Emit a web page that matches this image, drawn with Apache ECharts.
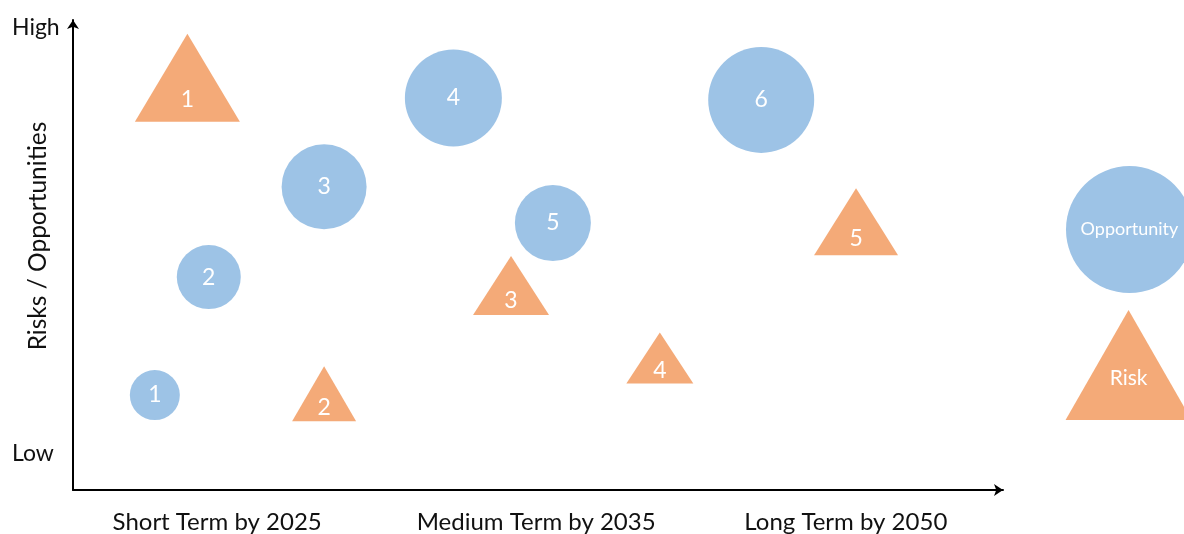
<!DOCTYPE html>
<html>
<head>
<meta charset="utf-8">
<script src="https://cdn.jsdelivr.net/npm/echarts@6/dist/echarts.min.js"></script>
<style>
  html, body { margin: 0; padding: 0; background: #fff; }
  #chart { width: 1184px; height: 534px; }
</style>
</head>
<body>
<div id="chart"></div>
<script>
// ---- data ----
const categories = ['Short Term by 2025', 'Medium Term by 2035', 'Long Term by 2050'];
const categoryPos = [15.5, 49.8, 83.1];          // position of each horizon on the 0-100 time axis
const levelLabels = ['Low', 'High'];
const levelPos = [7.7, 98.3];                     // position of Low / High on the 0-100 level axis

// Opportunities (circles): id, time position, level, magnitude (diameter)
const oppIds = ['1', '2', '3', '4', '5', '6'];
const oppTime = [8.8, 14.6, 27.0, 40.9, 51.6, 74.0];
const oppLevel = [20.2, 45.3, 64.5, 83.4, 56.8, 83.0];
const oppMagnitude = [50, 64, 85, 97, 76, 106];

// Risks (triangles): id, time position, level, magnitude (width, height)
const riskIds = ['1', '2', '3', '4', '5'];
const riskTime = [12.3, 27.0, 47.1, 63.1, 84.2];
const riskLevel = [87.7, 20.5, 43.5, 28.1, 57.1];
const riskMagW = [105, 64, 76, 67, 84];
const riskMagH = [88, 55, 59, 51, 67];

// Key (legend) entries
const keyNames = ['Opportunity', 'Risk'];
const keyTime = [113.6, 113.5];
const keyLevel = [55.4, 26.6];
const keyMagW = [127, 126];
const keyMagH = [127, 110];

// ---- chart ----
const BLUE = '#9DC3E6';
const ORANGE = '#F4AA78';
const FONT = 'Lato';

const chart = echarts.init(document.getElementById('chart'), null, { renderer: 'canvas' });

const oppData = oppIds.map((id, i) => ({
  name: id, value: [oppTime[i], oppLevel[i]], symbolSize: oppMagnitude[i]
}));
const riskData = riskIds.map((id, i) => ({
  name: id, value: [riskTime[i], riskLevel[i]], symbolSize: [riskMagW[i], riskMagH[i]],
  label: { offset: [0, riskMagH[i] * 0.25] }
}));
const keyOpp = [{
  name: keyNames[0], value: [keyTime[0], keyLevel[0]], symbolSize: keyMagW[0]
}];
const keyRisk = [{
  name: keyNames[1], value: [keyTime[1], keyLevel[1]], symbolSize: [keyMagW[1], keyMagH[1]],
  label: { offset: [0, keyMagH[1] * 0.12] }
}];

const lookup = (vals, labels) => (v) => {
  let best = 0, d = Infinity;
  vals.forEach((x, i) => { if (Math.abs(x - v) < d) { d = Math.abs(x - v); best = i; } });
  return labels[best];
};

const markerLabel = (size) => ({
  show: true, formatter: '{b}', color: '#fff', fontFamily: FONT, fontSize: size, position: 'inside'
});

chart.setOption({
  animation: false,
  backgroundColor: '#fff',
  grid: { left: 73, right: 181, top: 20, bottom: 44, containLabel: false, outerBoundsMode: 'none' },
  xAxis: {
    type: 'value', min: 0, max: 100,
    axisLine: { show: true, symbol: ['none', 'arrow'], symbolSize: [9, 9], lineStyle: { color: '#000', width: 2 } },
    axisTick: { show: false },
    splitLine: { show: false },
    axisLabel: {
      customValues: categoryPos,
      formatter: lookup(categoryPos, categories),
      color: '#111', fontFamily: FONT, fontSize: 24, margin: 19, lineHeight: 26
    }
  },
  yAxis: {
    type: 'value', min: 0, max: 100,
    name: 'Risks / Opportunities', nameLocation: 'middle', nameRotate: 90, nameGap: 22,
    nameMoveOverlap: false,
    nameTextStyle: { color: '#111', fontFamily: FONT, fontSize: 24.5, padding: [0, 0, 0, 38] },
    axisLine: { show: true, symbol: ['none', 'arrow'], symbolSize: [9, 9], lineStyle: { color: '#000', width: 2 } },
    axisTick: { show: false },
    splitLine: { show: false },
    axisLabel: {
      customValues: levelPos,
      formatter: lookup(levelPos, levelLabels),
      align: 'left', margin: 61,
      color: '#111', fontFamily: FONT, fontSize: 23
    }
  },
  series: [
    { type: 'scatter', symbol: 'circle', data: oppData, itemStyle: { color: BLUE, opacity: 1 }, label: markerLabel(23), clip: false, silent: true },
    { type: 'scatter', symbol: 'triangle', data: riskData, itemStyle: { color: ORANGE, opacity: 1 }, label: markerLabel(23), clip: false, silent: true },
    { type: 'scatter', symbol: 'circle', data: keyOpp, itemStyle: { color: BLUE, opacity: 1 }, label: markerLabel(18), clip: false, silent: true },
    { type: 'scatter', symbol: 'triangle', data: keyRisk, itemStyle: { color: ORANGE, opacity: 1 }, label: markerLabel(21), clip: false, silent: true }
  ]
});
</script>
</body>
</html>
